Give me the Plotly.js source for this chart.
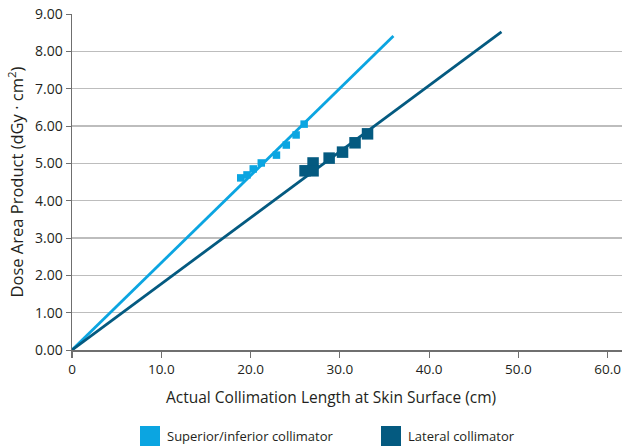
<!DOCTYPE html>
<html><head><meta charset="utf-8">
<script src="https://cdn.plot.ly/plotly-3.0.1.min.js"></script>
<style>html,body{margin:0;padding:0;background:#fff}#chart{width:622px;height:446px}</style>
</head><body><div id="chart"></div>
<script>
// Superior/inferior collimator measurements
const siX = [18.9, 19.6, 20.3, 21.2, 22.9, 24.0, 25.1, 26.0];
const siY = [4.61, 4.69, 4.85, 5.01, 5.22, 5.49, 5.76, 6.05];
// Lateral collimator measurements
const latX = [26.1, 27.0, 27.0, 28.8, 30.3, 31.7, 33.1];
const latY = [4.80, 5.01, 4.80, 5.14, 5.30, 5.55, 5.79];
// Fit lines (start, end)
const siLineX = [0, 36.0];
const siLineY = [0, 8.41];
const latLineX = [0, 48.1];
const latLineY = [0, 8.52];
const xTicks = [0, 10, 20, 30, 40, 50, 60];
const xTickText = ["0", "10.0", "20.0", "30.0", "40.0", "50.0", "60.0"];
const seriesNames = ["Superior/inferior collimator", "Lateral collimator"];
const xTitle = 'Actual Collimation Length at Skin Surface (cm)';
const yTitle = 'Dose Area Product (dGy · cm<sup>2</sup>)';

const cLight = '#0ba5e1';
const cDark = '#045a80';
const font = 'Open Sans, sans-serif';
const txt = '#231f20';

const traces = [
  {x: siLineX, y: siLineY, mode: 'lines', line: {color: cLight, width: 2.8}, showlegend: false, hoverinfo: 'skip'},
  {x: latLineX, y: latLineY, mode: 'lines', line: {color: cDark, width: 2.8}, showlegend: false, hoverinfo: 'skip'},
  {x: siX, y: siY, mode: 'markers', marker: {symbol: 'square', size: 7.5, color: cLight}, showlegend: false},
  {x: latX, y: latY, mode: 'markers', marker: {symbol: 'square', size: 11.5, color: cDark}, showlegend: false}
];

const px = v => (v - 72) / 550;
const py = v => (350 - v) / 336;

const layout = {
  width: 622, height: 446,
  margin: {l: 72, r: 0, t: 14, b: 96},
  paper_bgcolor: '#fff', plot_bgcolor: '#fff',
  font: {family: font, color: txt, size: 13},
  showlegend: false,
  xaxis: {
    range: [0, 61.6], tickvals: xTicks, ticktext: xTickText,
    showgrid: false, zeroline: false, showline: true, linecolor: '#6f6f6f', linewidth: 1.5,
    ticks: 'outside', ticklen: 6, tickcolor: '#6f6f6f', tickwidth: 1.2,
    ticklabeloverflow: 'allow',
    tickfont: {family: font, size: 13.5, color: txt}
  },
  yaxis: {
    range: [0, 9], dtick: 1, tickformat: '.2f',
    showgrid: true, gridcolor: '#bdbdbd', gridwidth: 1.2,
    zeroline: false, showline: true, linecolor: '#6f6f6f', linewidth: 1.5,
    ticks: 'outside', ticklen: 5, tickcolor: '#6f6f6f',
    tickfont: {family: font, size: 14, color: txt},
    title: {text: yTitle, font: {family: font, size: 16.5, color: txt}, standoff: 7}
  },
  shapes: [
    {type: 'rect', xref: 'paper', yref: 'paper', x0: px(140), x1: px(160), y0: py(426), y1: py(446), fillcolor: cLight, line: {width: 0}},
    {type: 'rect', xref: 'paper', yref: 'paper', x0: px(381), x1: px(401), y0: py(426), y1: py(446), fillcolor: cDark, line: {width: 0}}
  ],
  annotations: [
    {xref: 'paper', yref: 'paper', x: px(331), y: py(397), xanchor: 'center', yanchor: 'middle', showarrow: false, text: xTitle, font: {family: font, size: 15.5, color: txt}},
    {xref: 'paper', yref: 'paper', x: px(165), y: py(436), xanchor: 'left', yanchor: 'middle', showarrow: false, text: seriesNames[0], font: {family: font, size: 13, color: txt}},
    {xref: 'paper', yref: 'paper', x: px(406), y: py(436), xanchor: 'left', yanchor: 'middle', showarrow: false, text: seriesNames[1], font: {family: font, size: 13, color: txt}}
  ]
};
Plotly.newPlot('chart', traces, layout, {displayModeBar: false, staticPlot: true});
</script></body></html>
